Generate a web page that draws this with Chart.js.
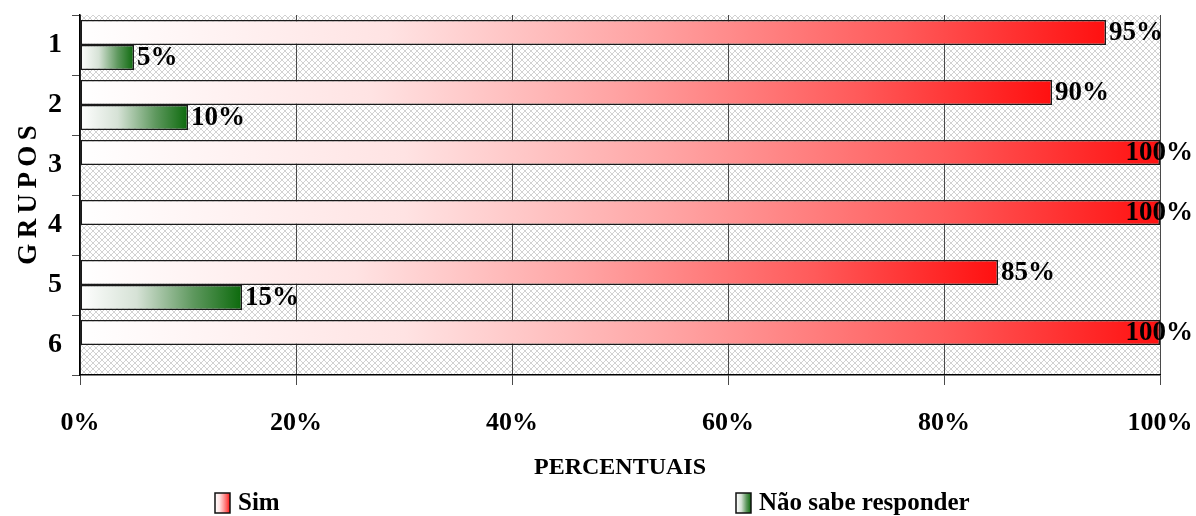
<!DOCTYPE html>
<html lang="pt-BR">
<head>
<meta charset="utf-8">
<title>Grupos - Percentuais</title>
<script src="https://cdn.jsdelivr.net/npm/chart.js@4.4.1/dist/chart.umd.min.js"></script>
<style>
    html, body { margin: 0; padding: 0; background: #fff; }
    #wrap { width: 1196px; height: 516px; position: relative; }
</style>
</head>
<body>
<div id="wrap"><canvas id="chartGrupos"></canvas></div>
<script>
// Dados por grupo
const grupos = ['1', '2', '3', '4', '5', '6'];
const valoresSim = [95, 90, 100, 100, 85, 100];
const valoresNaoSabe = [5, 10, 0, 0, 15, 0];
const ticksPercentuais = [0, 20, 40, 60, 80, 100];

const FONTE = "'Liberation Serif', 'Times New Roman', serif";

// Degradês das barras (do branco à cor cheia)
const degradeVermelho = [[0, '#ffffff'], [0.3, '#ffe3e3'], [0.55, '#ffa3a3'], [0.8, '#ff5a5a'], [1, '#ff1010']];
const degradeVerde = [[0, '#ffffff'], [0.35, '#d6e2d6'], [0.7, '#5e985e'], [1, '#0c6a0c']];

function preencherDegrade(g, stops) {
    stops.forEach(s => g.addColorStop(s[0], s[1]));
    return g;
}

function corBarra(stops) {
    return (ctx) => {
        const chart = ctx.chart;
        if (!chart.chartArea || ctx.type !== 'data' || !chart.scales.x) return stops[stops.length - 1][1];
        const x0 = chart.scales.x.getPixelForValue(0);
        const x1 = chart.scales.x.getPixelForValue(ctx.raw);
        if (x1 - x0 < 1) return stops[stops.length - 1][1];
        return preencherDegrade(chart.ctx.createLinearGradient(x0, 0, x1, 0), stops);
    };
}

// Fundo quadriculado da área do gráfico
function criarTrama() {
    const c = document.createElement('canvas');
    c.width = 6; c.height = 6;
    const g = c.getContext('2d');
    g.fillStyle = '#ffffff';
    g.fillRect(0, 0, 6, 6);
    g.fillStyle = '#d2d2d2';
    for (let i = 0; i < 6; i++) {
        g.fillRect(i, i, 1, 1);
        g.fillRect(5 - i, i, 1, 1);
    }
    return c;
}

const fundoTrama = {
    id: 'fundoTrama',
    beforeDraw(chart) {
        const { ctx, chartArea: a } = chart;
        ctx.save();
        ctx.fillStyle = ctx.createPattern(criarTrama(), 'repeat');
        ctx.fillRect(a.left, a.top, a.right - a.left, a.bottom - a.top);
        ctx.restore();
    }
};

// Rótulos de valor no fim de cada barra
const rotulosValor = {
    id: 'rotulosValor',
    afterDatasetsDraw(chart) {
        const { ctx } = chart;
        ctx.save();
        ctx.font = `bold 27px ${FONTE}`;
        ctx.fillStyle = '#000';
        ctx.textBaseline = 'middle';
        ctx.textAlign = 'left';
        chart.data.datasets.forEach((ds, i) => {
            chart.getDatasetMeta(i).data.forEach((bar, j) => {
                const v = ds.data[j];
                if (!v) return;
                const txt = v + '%';
                const w = ctx.measureText(txt).width;
                let x = bar.x + 3;
                if (x + w > chart.width - 3) x = chart.width - 3 - w;
                ctx.fillText(txt, x, bar.y + 1);
            });
        });
        ctx.restore();
    }
};

// Legenda desenhada abaixo do eixo
const legendaGrupos = {
    id: 'legendaGrupos',
    afterDraw(chart) {
        const { ctx } = chart;
        const posicoes = [215, 736];
        const degrades = [degradeVermelho, degradeVerde];
        const y = 493;
        ctx.save();
        ctx.font = `bold 25px ${FONTE}`;
        ctx.textBaseline = 'middle';
        chart.data.datasets.forEach((ds, i) => {
            const x = posicoes[i];
            ctx.fillStyle = preencherDegrade(ctx.createLinearGradient(x, 0, x + 15, 0), degrades[i]);
            ctx.fillRect(x, y, 15, 20);
            ctx.strokeStyle = '#111';
            ctx.lineWidth = 1.5;
            ctx.strokeRect(x, y, 15, 20);
            ctx.fillStyle = '#000';
            ctx.fillText(ds.label, x + 23, y + 11);
        });
        ctx.restore();
    }
};

// Remove o recuo automático das escalas para fixar a área do gráfico
function semRecuo(scale) {
    scale.paddingTop = 0;
    scale.paddingBottom = 0;
    scale.paddingLeft = 0;
    scale.paddingRight = 0;
}

new Chart(document.getElementById('chartGrupos'), {
    type: 'bar',
    data: {
        labels: grupos,
        datasets: [{
            label: 'Sim',
            data: valoresSim,
            backgroundColor: corBarra(degradeVermelho),
            borderColor: '#1a1a1a',
            borderWidth: 1.5,
            borderSkipped: false,
            categoryPercentage: 0.833,
            barPercentage: 1
        }, {
            label: 'Não sabe responder',
            data: valoresNaoSabe,
            backgroundColor: corBarra(degradeVerde),
            borderColor: '#1a1a1a',
            borderWidth: 1.5,
            borderSkipped: false,
            categoryPercentage: 0.833,
            barPercentage: 1
        }]
    },
    options: {
        indexAxis: 'y',
        responsive: true,
        maintainAspectRatio: false,
        animation: false,
        layout: { padding: { top: 15, right: 36, bottom: 30, left: 0 } },
        plugins: {
            legend: { display: false },
            tooltip: { enabled: false }
        },
        scales: {
            x: {
                min: 0,
                max: 100,
                afterBuildTicks: (scale) => { scale.ticks = ticksPercentuais.map(v => ({ value: v })); },
                ticks: {
                    color: '#000',
                    padding: 23,
                    maxRotation: 0,
                    font: { family: FONTE, size: 26, weight: 'bold' },
                    callback: (v) => v + '%'
                },
                grid: { color: '#4a4a4a', lineWidth: 1, tickLength: 10 },
                border: { color: '#000', width: 1.5 },
                title: {
                    display: true,
                    text: 'PERCENTUAIS',
                    color: '#000',
                    font: { family: FONTE, size: 24, weight: 'bold' },
                    padding: { top: 0, bottom: 4 }
                },
                afterFit: (scale) => { scale.height = 111; semRecuo(scale); }
            },
            y: {
                ticks: {
                    color: '#000',
                    padding: 10,
                    font: { family: FONTE, size: 28, weight: 'bold' }
                },
                grid: { offset: true, drawOnChartArea: false, color: '#4a4a4a', tickLength: 8 },
                border: { color: '#000', width: 1.5 },
                title: {
                    display: true,
                    text: 'G\u2009R\u2009U\u2009P\u2009O\u2009S',
                    color: '#000',
                    font: { family: FONTE, size: 27, weight: 'bold' },
                    padding: { top: 13, bottom: 0 }
                },
                afterFit: (scale) => { scale.width = 80; semRecuo(scale); }
            }
        }
    },
    plugins: [fundoTrama, rotulosValor, legendaGrupos]
});
</script>
</body>
</html>
